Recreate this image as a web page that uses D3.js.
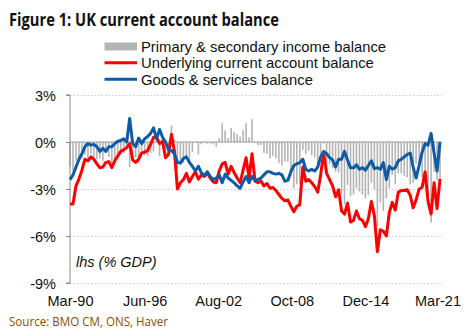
<!DOCTYPE html>
<html><head><meta charset="utf-8">
<script src="https://cdn.jsdelivr.net/npm/d3@7"></script>
<style>
html,body{margin:0;padding:0;background:#fff;}
svg{display:block;}
</style></head>
<body>
<svg id="chart" width="474" height="334"></svg>
<script>
// ---- Data (quarterly, Mar-90 .. Mar-21), % of GDP ----
const firstQuarter = "1990-03";
const underlying = [
-3.95,-3.95,-2.8,-2.35,-1.8,-1.1,-1.2,-0.95,-1.1,-1.4,
-1.65,-1.6,-1.3,-1.25,-1.64,-1.2,-0.9,-0.6,-0.5,-0.36,
-0.1,-1.15,-1.3,-1.1,-0.7,-0.65,-0.55,-0.15,0.3,0.3,
-0.1,0.05,-1.0,-0.8,0.5,-0.6,-3.0,-2.6,-2.4,-2.0,
-2.55,-2.2,-1.9,-2.38,-2.1,-2.2,-2.0,-2.3,-2.55,-2.6,
-1.85,-1.4,-1.3,-2.05,-1.55,-1.95,-2.3,-2.6,-1.8,-1.0,
-2.3,-0.75,-2.5,-2.6,-2.5,-2.8,-2.65,-2.95,-2.9,-3.1,
-3.35,-3.6,-3.75,-3.7,-4.1,-4.45,-4.1,-4.0,-1.6,-2.5,
-2.4,-2.6,-2.85,-3.2,-2.1,-0.7,-2.0,-2.4,-2.8,-3.5,
-3.05,-4.4,-4.6,-3.9,-5.1,-5.0,-4.4,-4.9,-5.0,-5.4,
-4.9,-3.8,-4.7,-7.0,-5.6,-5.7,-6.0,-4.5,-3.85,-4.35,
-3.2,-3.1,-3.1,-3.05,-3.4,-4.2,-3.7,-3.0,-2.9,-1.9,
-3.8,-4.6,-2.6,-4.25,-2.35];
const goodsServices = [
-2.4,-2.1,-1.6,-1.1,-0.75,-0.3,-0.1,-0.2,-0.15,-0.3,
-0.6,-0.4,-0.6,-0.3,-0.3,-0.1,0.05,0.1,0.2,0.0,
1.5,-0.1,-0.3,0.25,-0.1,0.2,0.35,0.55,0.9,0.2,
0.8,0.3,0.0,-0.47,-0.55,-0.75,-1.3,-1.35,-1.05,-0.95,
-1.3,-1.55,-1.85,-1.55,-1.95,-2.15,-1.9,-2.2,-2.4,-2.3,
-2.1,-2.6,-2.06,-2.3,-2.45,-2.6,-2.8,-2.95,-2.55,-2.2,
-2.6,-2.2,-2.45,-2.38,-2.3,-2.1,-1.9,-1.9,-2.0,-2.05,
-2.0,-2.1,-2.5,-2.45,-1.9,-1.5,-1.4,-1.32,-1.1,-1.75,
-1.85,-1.75,-1.85,-1.6,-0.95,-0.6,-0.75,-1.0,-1.15,-1.6,
-1.1,-1.1,-0.6,-1.15,-1.65,-1.65,-1.45,-1.74,-1.64,-1.8,
-1.5,-1.2,-1.7,-1.64,-1.74,-1.32,-2.4,-1.55,-1.74,-1.64,
-1.2,-1.1,-0.95,-0.8,-0.7,-1.6,-2.3,-1.5,-0.65,-0.1,
-0.2,0.55,-0.7,-1.85,0.0];
const incomeBalance = [
-1.55,-1.85,-1.2,-1.25,-1.05,-0.8,-1.1,-0.75,-0.95,-1.1,
-1.05,-1.2,-0.7,-0.95,-1.34,-1.1,-0.95,-0.7,-0.7,-0.36,
-1.6,-1.05,-1.0,-1.35,-0.6,-0.85,-0.9,-0.7,-0.6,0.1,
-0.9,-0.25,-1.0,-0.33,1.05,0.15,-1.7,-1.25,-1.35,-1.05,
-1.25,-0.65,-0.05,-0.8,-0.15,-0.05,-0.1,-0.1,-0.15,-0.3,
0.25,1.2,0.75,0.25,0.9,0.65,0.5,0.35,0.75,1.2,
0.3,1.45,-0.05,-0.2,-0.2,-0.7,-0.75,-1.05,-0.9,-1.05,
-1.35,-1.5,-1.25,-1.25,-2.2,-2.95,-2.7,-2.7,-0.5,-0.75,
-0.55,-0.85,-1.0,-1.6,-1.15,-0.1,-1.25,-1.4,-1.65,-1.9,
-1.95,-3.3,-4.0,-2.75,-3.45,-3.35,-2.95,-3.15,-3.35,-3.6,
-3.4,-2.6,-3.0,-5.35,-3.85,-4.4,-3.6,-2.95,-2.1,-2.7,
-2.0,-2.0,-2.15,-2.25,-2.7,-2.6,-1.4,-1.5,-2.25,-1.8,
-3.6,-5.15,-1.9,-2.4,-2.35];
const yTicks = [3, 0, -3, -6, -9];
const xTickLabels = ["Mar-90","Jun-96","Aug-02","Oct-08","Dec-14","Mar-21"];
const xTickDates = ["1990-03","1996-06","2002-08","2008-10","2014-12","2021-03"];
const legendLabels = ["Primary & secondary income balance","Underlying current account balance","Goods & services balance"];
const titleText = "Figure 1: UK current account balance";
const sourceText = "Source: BMO CM, ONS, Haver";
const axisNote = "lhs (% GDP)";

// ---- Layout ----
const parseM = d3.timeParse("%Y-%m");
const start = parseM(firstQuarter);
const dates = underlying.map((_, i) => d3.timeMonth.offset(start, 3 * i));

const svg = d3.select("#chart");
const plotL = 70, plotR = 440, plotT = 95, plotB = 283;
const x = d3.scaleTime().domain([dates[0], dates[dates.length - 1]]).range([plotL, plotR]);
const y = d3.scaleLinear().domain([-9, 3]).range([plotB, plotT]);

const RED = "#ff0000", BLUE = "#0d5ba6", GREY = "#b4b4b4";
const FONT = "'Liberation Sans', Arial, sans-serif";

// Title
svg.append("text").attr("x", 9).attr("y", 25.5)
  .attr("font-family", "'Open Sans', 'Noto Sans', sans-serif").attr("font-weight", 700)
  .attr("font-size", 17).attr("fill", "#111")
  .attr("textLength", 270).attr("lengthAdjust", "spacingAndGlyphs").text(titleText);

// Legend
const lg = svg.append("g");
lg.append("rect").attr("x", 104.5).attr("y", 42.5).attr("width", 32.5).attr("height", 8).attr("fill", GREY);
lg.append("line").attr("x1", 104.5).attr("x2", 137).attr("y1", 62.8).attr("y2", 62.8).attr("stroke", RED).attr("stroke-width", 3);
lg.append("line").attr("x1", 104.5).attr("x2", 137).attr("y1", 79.3).attr("y2", 79.3).attr("stroke", BLUE).attr("stroke-width", 3);
legendLabels.forEach((s, i) => {
  lg.append("text").attr("x", 141).attr("y", 51.5 + i * 16.6)
    .attr("font-family", FONT).attr("font-size", 14.8).attr("fill", "#111").text(s);
});

// Gridlines (dotted)
svg.append("g").selectAll("line").data(yTicks.filter(d => d !== 0)).join("line")
  .attr("x1", plotL).attr("x2", plotR + 2)
  .attr("y1", d => y(d) + 0.5).attr("y2", d => y(d) + 0.5)
  .attr("stroke", "#c8c8c8").attr("stroke-width", 1).attr("stroke-dasharray", "1.5,2");

// Bars
const bw = 1.6;
svg.append("g").selectAll("rect").data(incomeBalance).join("rect")
  .attr("x", (d, i) => x(dates[i]) - bw / 2)
  .attr("y", d => Math.min(y(d), y(0)))
  .attr("width", bw)
  .attr("height", d => Math.abs(y(d) - y(0)))
  .attr("fill", GREY);

// Zero line
svg.append("line").attr("x1", plotL).attr("x2", plotR + 2).attr("y1", y(0)).attr("y2", y(0))
  .attr("stroke", "#9a9a9a").attr("stroke-width", 1.2);

// Y axis
const yAxis = d3.axisLeft(y).tickValues(yTicks).tickSize(4).tickFormat(d => d + "%");
const ya = svg.append("g").attr("transform", `translate(${plotL},0)`).call(yAxis);
ya.select(".domain").attr("stroke", "#8a8a8a").attr("d", `M-4,${y(3)}H0V${y(-9)}H-4`);
ya.selectAll(".tick line").attr("stroke", "#8a8a8a");
ya.selectAll(".tick text").attr("font-family", FONT).attr("font-size", 14.5).attr("fill", "#111")
  .attr("x", -14).attr("dy", "0.35em");

// X labels
const xa = d3.axisBottom(x).tickValues(xTickDates.map(parseM)).tickSize(0)
  .tickFormat((d, i) => xTickLabels[i]);
const xg = svg.append("g").attr("transform", `translate(0,${plotB})`).call(xa);
xg.select(".domain").remove();
xg.selectAll(".tick text").attr("font-family", FONT).attr("font-size", 14.5).attr("fill", "#111").attr("dy", "0").attr("y", 23);
xg.selectAll(".tick").filter((d, i) => i === xTickLabels.length - 1).select("text").attr("dx", -2.5);

// Lines
const line = d3.line().x((d, i) => x(dates[i])).y(d => y(d)).curve(d3.curveLinear);
svg.append("path").datum(underlying).attr("d", line).attr("fill", "none")
  .attr("stroke", RED).attr("stroke-width", 3).attr("stroke-linejoin", "round");
svg.append("path").datum(goodsServices).attr("d", line).attr("fill", "none")
  .attr("stroke", BLUE).attr("stroke-width", 3).attr("stroke-linejoin", "round");

// Note
svg.append("text").attr("x", 76).attr("y", 267).attr("font-family", FONT).attr("font-style", "italic")
  .attr("font-size", 14.5).attr("fill", "#111").text(axisNote);

// Source
svg.append("text").attr("x", 9).attr("y", 325.5)
  .attr("font-family", "'Open Sans', 'Noto Sans', sans-serif").attr("font-size", 13.2)
  .attr("fill", "#8a4e00")
  .attr("textLength", 159).attr("lengthAdjust", "spacingAndGlyphs").text(sourceText);
</script>
</body></html>
